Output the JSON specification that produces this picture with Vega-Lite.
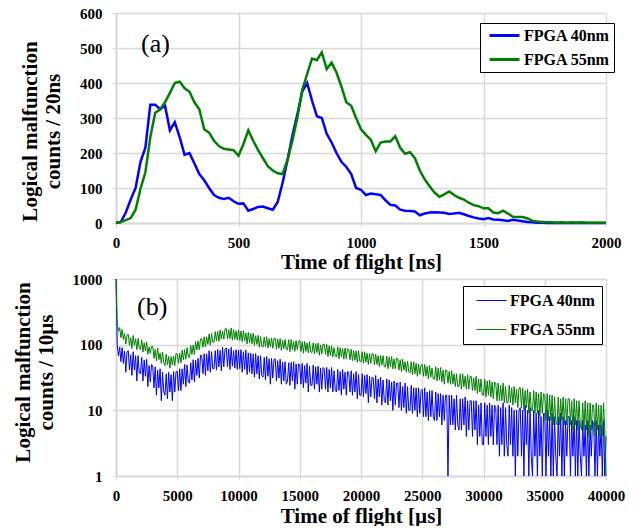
{
"$schema": "https://vega.github.io/schema/vega-lite/v6.json",
"padding": {"left": 12, "top": 6, "right": 4, "bottom": 0},
"background": "white",
"spacing": 0,
"config": {
  "font": "Liberation Serif",
  "view": {"stroke": null},
  "axis": {"labelFont": "Liberation Serif", "labelFontWeight": "bold", "labelFontSize": 15, "labelColor": "black", "labelFlush": false,
           "titleFont": "Liberation Serif", "titleFontWeight": "bold", "titleFontSize": 21, "titleColor": "black",
           "gridColor": "#d9d9d9", "gridWidth": 1.5, "domainColor": "#d9d9d9", "domainWidth": 2, "tickColor": "#d9d9d9", "tickSize": 4},
  "legend": {"labelFont": "Liberation Serif", "labelFontWeight": "bold", "labelFontSize": 16, "labelColor": "black",
             "strokeColor": "black", "fillColor": "white", "symbolType": "stroke", "symbolSize": 900, "title": null, "clipHeight": 17, "labelOffset": 3}
},
"resolve": {"scale": {"color": "independent"}, "legend": {"color": "independent"}},
"datasets": {
"ns": [
{"t":0,"n40":0,"n55":0},{"t":20,"n40":3,"n55":3},{"t":40,"n40":30,"n55":8},{"t":60,"n40":67,"n55":14},{"t":80,"n40":100,"n55":38},
{"t":100,"n40":175,"n55":98},{"t":120,"n40":215,"n55":145},{"t":140,"n40":338,"n55":245},{"t":160,"n40":338,"n55":315},{"t":180,"n40":325,"n55":324},
{"t":200,"n40":335,"n55":345},{"t":220,"n40":265,"n55":372},{"t":240,"n40":288,"n55":400},{"t":260,"n40":245,"n55":404},{"t":280,"n40":195,"n55":385},
{"t":300,"n40":200,"n55":375},{"t":320,"n40":170,"n55":345},{"t":340,"n40":140,"n55":325},{"t":360,"n40":122,"n55":268},{"t":380,"n40":100,"n55":258},
{"t":400,"n40":80,"n55":235},{"t":420,"n40":72,"n55":220},{"t":440,"n40":69,"n55":212},{"t":460,"n40":72,"n55":210},{"t":480,"n40":62,"n55":208},
{"t":500,"n40":55,"n55":192},{"t":520,"n40":56,"n55":225},{"t":540,"n40":35,"n55":265},{"t":560,"n40":40,"n55":235},{"t":580,"n40":46,"n55":208},
{"t":600,"n40":47,"n55":185},{"t":620,"n40":42,"n55":162},{"t":640,"n40":38,"n55":150},{"t":660,"n40":60,"n55":142},{"t":680,"n40":115,"n55":140},
{"t":700,"n40":180,"n55":180},{"t":720,"n40":250,"n55":235},{"t":740,"n40":310,"n55":300},{"t":760,"n40":375,"n55":380},{"t":780,"n40":400,"n55":425},
{"t":800,"n40":350,"n55":470},{"t":820,"n40":305,"n55":465},{"t":840,"n40":300,"n55":488},{"t":860,"n40":255,"n55":440},{"t":880,"n40":230,"n55":458},
{"t":900,"n40":200,"n55":430},{"t":920,"n40":175,"n55":390},{"t":940,"n40":160,"n55":345},{"t":960,"n40":140,"n55":335},{"t":980,"n40":100,"n55":300},
{"t":1000,"n40":95,"n55":268},{"t":1020,"n40":80,"n55":252},{"t":1040,"n40":84,"n55":238},{"t":1060,"n40":82,"n55":205},{"t":1080,"n40":80,"n55":230},
{"t":1100,"n40":65,"n55":233},{"t":1120,"n40":52,"n55":233},{"t":1140,"n40":50,"n55":248},{"t":1160,"n40":38,"n55":215},{"t":1180,"n40":35,"n55":198},
{"t":1200,"n40":34,"n55":202},{"t":1220,"n40":33,"n55":185},{"t":1240,"n40":22,"n55":150},{"t":1260,"n40":27,"n55":125},{"t":1280,"n40":30,"n55":105},
{"t":1300,"n40":31,"n55":87},{"t":1320,"n40":30,"n55":75},{"t":1340,"n40":29,"n55":82},{"t":1360,"n40":26,"n55":90},{"t":1380,"n40":27,"n55":80},
{"t":1400,"n40":29,"n55":72},{"t":1420,"n40":25,"n55":67},{"t":1440,"n40":20,"n55":58},{"t":1460,"n40":16,"n55":51},{"t":1480,"n40":13,"n55":48},
{"t":1500,"n40":11,"n55":42},{"t":1520,"n40":14,"n55":42},{"t":1540,"n40":10,"n55":30},{"t":1560,"n40":9,"n55":28},{"t":1580,"n40":8,"n55":35},
{"t":1600,"n40":6,"n55":27},{"t":1620,"n40":9,"n55":18},{"t":1640,"n40":7,"n55":17},{"t":1660,"n40":5,"n55":17},{"t":1680,"n40":3,"n55":13},
{"t":1700,"n40":2,"n55":6},{"t":1720,"n40":1,"n55":4},{"t":1740,"n40":1,"n55":3},{"t":1760,"n40":0,"n55":2},{"t":1780,"n40":0,"n55":2},
{"t":1800,"n40":1,"n55":1},{"t":1820,"n40":0,"n55":2},{"t":1840,"n40":0,"n55":1},{"t":1860,"n40":0,"n55":2},{"t":1880,"n40":1,"n55":1},
{"t":1900,"n40":0,"n55":2},{"t":1920,"n40":0,"n55":1},{"t":1940,"n40":0,"n55":1},{"t":1960,"n40":0,"n55":1},{"t":1980,"n40":0,"n55":1},
{"t":2000,"n40":0,"n55":1}
],
"us": [
{"t":0,"n40":1000,"n55":1000},{"t":100,"n40":100,"n55":210},{"t":200,"n40":68,"n55":160},{"t":300,"n40":92,"n55":182},{"t":400,"n40":55,"n55":128},{"t":500,"n40":90,"n55":170},{"t":600,"n40":52,"n55":120},{"t":700,"n40":80,"n55":148},{"t":800,"n40":38,"n55":102},{"t":900,"n40":78,"n55":140},
{"t":1000,"n40":81,"n55":144},{"t":1100,"n40":41,"n55":97},{"t":1200,"n40":70,"n55":128},{"t":1300,"n40":34,"n55":87},{"t":1400,"n40":78,"n55":138},{"t":1500,"n40":41,"n55":98},{"t":1600,"n40":68,"n55":123},{"t":1700,"n40":28,"n55":84},{"t":1800,"n40":68,"n55":124},{"t":1900,"n40":37,"n55":88},
{"t":2000,"n40":36,"n55":85},{"t":2100,"n40":64,"n55":118},{"t":2200,"n40":28,"n55":77},{"t":2300,"n40":58,"n55":107},{"t":2400,"n40":33,"n55":80},{"t":2500,"n40":60,"n55":110},{"t":2600,"n40":23,"n55":71},{"t":2700,"n40":48,"n55":92},{"t":2800,"n40":27,"n55":74},{"t":2900,"n40":50,"n55":94},
{"t":3000,"n40":47,"n55":94},{"t":3100,"n40":22,"n55":62},{"t":3200,"n40":46,"n55":85},{"t":3300,"n40":17,"n55":57},{"t":3400,"n40":41,"n55":89},{"t":3500,"n40":22,"n55":59},{"t":3600,"n40":43,"n55":75},{"t":3700,"n40":14,"n55":52},{"t":3800,"n40":38,"n55":77},{"t":3900,"n40":19,"n55":53},
{"t":4000,"n40":17,"n55":48},{"t":4100,"n40":36,"n55":72},{"t":4200,"n40":15,"n55":49},{"t":4300,"n40":38,"n55":66},{"t":4400,"n40":19,"n55":44},{"t":4500,"n40":35,"n55":66},{"t":4600,"n40":14,"n55":49},{"t":4700,"n40":39,"n55":67},{"t":4800,"n40":19,"n55":48},{"t":4900,"n40":39,"n55":74},
{"t":5000,"n40":39,"n55":72},{"t":5100,"n40":20,"n55":52},{"t":5200,"n40":43,"n55":74},{"t":5300,"n40":20,"n55":53},{"t":5400,"n40":43,"n55":83},{"t":5500,"n40":25,"n55":59},{"t":5600,"n40":50,"n55":84},{"t":5700,"n40":23,"n55":60},{"t":5800,"n40":49,"n55":90},{"t":5900,"n40":27,"n55":65},
{"t":6000,"n40":26,"n55":64},{"t":6100,"n40":53,"n55":97},{"t":6200,"n40":29,"n55":71},{"t":6300,"n40":59,"n55":99},{"t":6400,"n40":27,"n55":71},{"t":6500,"n40":58,"n55":111},{"t":6600,"n40":34,"n55":83},{"t":6700,"n40":62,"n55":114},{"t":6800,"n40":31,"n55":84},{"t":6900,"n40":69,"n55":122},
{"t":7000,"n40":68,"n55":124},{"t":7100,"n40":36,"n55":91},{"t":7200,"n40":73,"n55":132},{"t":7300,"n40":34,"n55":93},{"t":7400,"n40":72,"n55":132},{"t":7500,"n40":40,"n55":101},{"t":7600,"n40":81,"n55":146},{"t":7700,"n40":38,"n55":98},{"t":7800,"n40":78,"n55":148},{"t":7900,"n40":43,"n55":109},
{"t":8000,"n40":43,"n55":109},{"t":8100,"n40":81,"n55":158},{"t":8200,"n40":41,"n55":114},{"t":8300,"n40":85,"n55":159},{"t":8400,"n40":46,"n55":112},{"t":8500,"n40":82,"n55":168},{"t":8600,"n40":40,"n55":122},{"t":8700,"n40":91,"n55":162},{"t":8800,"n40":46,"n55":121},{"t":8900,"n40":86,"n55":173},
{"t":9000,"n40":89,"n55":177},{"t":9100,"n40":46,"n55":122},{"t":9200,"n40":86,"n55":170},{"t":9300,"n40":42,"n55":124},{"t":9400,"n40":91,"n55":179},{"t":9500,"n40":47,"n55":117},{"t":9600,"n40":81,"n55":170},{"t":9700,"n40":44,"n55":121},{"t":9800,"n40":84,"n55":162},{"t":9900,"n40":42,"n55":117},
{"t":10000,"n40":83,"n55":168},{"t":10100,"n40":43,"n55":117},{"t":10200,"n40":84,"n55":162},{"t":10300,"n40":38,"n55":111},{"t":10400,"n40":78,"n55":163},{"t":10500,"n40":42,"n55":114},{"t":10600,"n40":83,"n55":151},{"t":10700,"n40":35,"n55":103},{"t":10800,"n40":75,"n55":154},{"t":10900,"n40":38,"n55":106},
{"t":11000,"n40":74,"n55":148},{"t":11100,"n40":36,"n55":103},{"t":11200,"n40":72,"n55":149},{"t":11300,"n40":32,"n55":98},{"t":11400,"n40":73,"n55":137},{"t":11500,"n40":36,"n55":101},{"t":11600,"n40":68,"n55":139},{"t":11700,"n40":30,"n55":91},{"t":11800,"n40":68,"n55":133},{"t":11900,"n40":34,"n55":94},
{"t":12000,"n40":32,"n55":92},{"t":12100,"n40":64,"n55":131},{"t":12200,"n40":29,"n55":94},{"t":12300,"n40":66,"n55":132},{"t":12400,"n40":33,"n55":89},{"t":12500,"n40":61,"n55":123},{"t":12600,"n40":25,"n55":93},{"t":12700,"n40":62,"n55":127},{"t":12800,"n40":31,"n55":88},{"t":12900,"n40":59,"n55":124},
{"t":13000,"n40":61,"n55":125},{"t":13100,"n40":28,"n55":85},{"t":13200,"n40":57,"n55":122},{"t":13300,"n40":31,"n55":88},{"t":13400,"n40":60,"n55":124},{"t":13500,"n40":25,"n55":82},{"t":13600,"n40":54,"n55":116},{"t":13700,"n40":28,"n55":87},{"t":13800,"n40":55,"n55":120},{"t":13900,"n40":25,"n55":84},
{"t":14000,"n40":28,"n55":84},{"t":14100,"n40":53,"n55":119},{"t":14200,"n40":24,"n55":78},{"t":14300,"n40":54,"n55":120},{"t":14400,"n40":28,"n55":83},{"t":14500,"n40":55,"n55":112},{"t":14600,"n40":21,"n55":79},{"t":14700,"n40":51,"n55":115},{"t":14800,"n40":25,"n55":84},{"t":14900,"n40":51,"n55":112},
{"t":15000,"n40":49,"n55":116},{"t":15100,"n40":25,"n55":79},{"t":15200,"n40":52,"n55":111},{"t":15300,"n40":22,"n55":74},{"t":15400,"n40":48,"n55":112},{"t":15500,"n40":26,"n55":79},{"t":15600,"n40":52,"n55":106},{"t":15700,"n40":19,"n55":75},{"t":15800,"n40":47,"n55":111},{"t":15900,"n40":24,"n55":77},
{"t":16000,"n40":24,"n55":76},{"t":16100,"n40":49,"n55":107},{"t":16200,"n40":21,"n55":73},{"t":16300,"n40":46,"n55":104},{"t":16400,"n40":25,"n55":76},{"t":16500,"n40":47,"n55":106},{"t":16600,"n40":19,"n55":69},{"t":16700,"n40":44,"n55":99},{"t":16800,"n40":21,"n55":72},{"t":16900,"n40":45,"n55":102},
{"t":17000,"n40":43,"n55":101},{"t":17100,"n40":21,"n55":71},{"t":17200,"n40":45,"n55":101},{"t":17300,"n40":19,"n55":66},{"t":17400,"n40":42,"n55":96},{"t":17500,"n40":22,"n55":68},{"t":17600,"n40":45,"n55":96},{"t":17700,"n40":19,"n55":65},{"t":17800,"n40":40,"n55":90},{"t":17900,"n40":20,"n55":67},
{"t":18000,"n40":19,"n55":65},{"t":18100,"n40":42,"n55":93},{"t":18200,"n40":20,"n55":61},{"t":18300,"n40":39,"n55":90},{"t":18400,"n40":17,"n55":65},{"t":18500,"n40":42,"n55":87},{"t":18600,"n40":21,"n55":60},{"t":18700,"n40":38,"n55":89},{"t":18800,"n40":17,"n55":61},{"t":18900,"n40":39,"n55":86},
{"t":19000,"n40":38,"n55":85},{"t":19100,"n40":19,"n55":59},{"t":19200,"n40":40,"n55":85},{"t":19300,"n40":17,"n55":57},{"t":19400,"n40":36,"n55":81},{"t":19500,"n40":19,"n55":58},{"t":19600,"n40":39,"n55":80},{"t":19700,"n40":15,"n55":54},{"t":19800,"n40":35,"n55":81},{"t":19900,"n40":17,"n55":56},
{"t":20000,"n40":17,"n55":55},{"t":20100,"n40":36,"n55":78},{"t":20200,"n40":16,"n55":52},{"t":20300,"n40":34,"n55":78},{"t":20400,"n40":18,"n55":54},{"t":20500,"n40":35,"n55":74},{"t":20600,"n40":13,"n55":50},{"t":20700,"n40":33,"n55":73},{"t":20800,"n40":16,"n55":52},{"t":20900,"n40":32,"n55":73},
{"t":21000,"n40":31,"n55":72},{"t":21100,"n40":15,"n55":49},{"t":21200,"n40":34,"n55":72},{"t":21300,"n40":13,"n55":50},{"t":21400,"n40":30,"n55":68},{"t":21500,"n40":16,"n55":46},{"t":21600,"n40":32,"n55":68},{"t":21700,"n40":12,"n55":49},{"t":21800,"n40":29,"n55":68},{"t":21900,"n40":14,"n55":46},
{"t":22000,"n40":13,"n55":46},{"t":22100,"n40":30,"n55":67},{"t":22200,"n40":12,"n55":43},{"t":22300,"n40":29,"n55":65},{"t":22400,"n40":14,"n55":46},{"t":22500,"n40":27,"n55":66},{"t":22600,"n40":10,"n55":43},{"t":22700,"n40":28,"n55":61},{"t":22800,"n40":12,"n55":43},{"t":22900,"n40":26,"n55":62},
{"t":23000,"n40":26,"n55":61},{"t":23100,"n40":11,"n55":41},{"t":23200,"n40":27,"n55":59},{"t":23300,"n40":10,"n55":39},{"t":23400,"n40":23,"n55":60},{"t":23500,"n40":11,"n55":41},{"t":23600,"n40":26,"n55":55},{"t":23700,"n40":9,"n55":38},{"t":23800,"n40":23,"n55":56},{"t":23900,"n40":10,"n55":39},
{"t":24000,"n40":10,"n55":37},{"t":24100,"n40":24,"n55":55},{"t":24200,"n40":9,"n55":35},{"t":24300,"n40":22,"n55":55},{"t":24400,"n40":10,"n55":36},{"t":24500,"n40":22,"n55":52},{"t":24600,"n40":8,"n55":33},{"t":24700,"n40":22,"n55":51},{"t":24800,"n40":9,"n55":35},{"t":24900,"n40":20,"n55":49},
{"t":25000,"n40":21,"n55":50},{"t":25100,"n40":8,"n55":33},{"t":25200,"n40":22,"n55":50},{"t":25300,"n40":8,"n55":33},{"t":25400,"n40":19,"n55":47},{"t":25500,"n40":7,"n55":30},{"t":25600,"n40":20,"n55":48},{"t":25700,"n40":8,"n55":32},{"t":25800,"n40":20,"n55":44},{"t":25900,"n40":8,"n55":30},
{"t":26000,"n40":7,"n55":30},{"t":26100,"n40":19,"n55":46},{"t":26200,"n40":7,"n55":28},{"t":26300,"n40":18,"n55":44},{"t":26400,"n40":8,"n55":29},{"t":26500,"n40":18,"n55":45},{"t":26600,"n40":6,"n55":27},{"t":26700,"n40":17,"n55":41},{"t":26800,"n40":7,"n55":25},{"t":26900,"n40":17,"n55":41},
{"t":27000,"n40":17,"n55":41},{"t":27100,"n40":1,"n55":26},{"t":27200,"n40":17,"n55":39},{"t":27300,"n40":6,"n55":25},{"t":27400,"n40":17,"n55":40},{"t":27500,"n40":6,"n55":25},{"t":27600,"n40":15,"n55":36},{"t":27700,"n40":5,"n55":23},{"t":27800,"n40":17,"n55":36},{"t":27900,"n40":6,"n55":23},
{"t":28000,"n40":5,"n55":23},{"t":28100,"n40":15,"n55":36},{"t":28200,"n40":5,"n55":21},{"t":28300,"n40":15,"n55":36},{"t":28400,"n40":6,"n55":23},{"t":28500,"n40":16,"n55":33},{"t":28600,"n40":4,"n55":21},{"t":28700,"n40":14,"n55":35},{"t":28800,"n40":5,"n55":21},{"t":28900,"n40":14,"n55":33},
{"t":29000,"n40":14,"n55":33},{"t":29100,"n40":4,"n55":20},{"t":29200,"n40":14,"n55":31},{"t":29300,"n40":5,"n55":20},{"t":29400,"n40":14,"n55":33},{"t":29500,"n40":3,"n55":18},{"t":29600,"n40":12,"n55":30},{"t":29700,"n40":4,"n55":19},{"t":29800,"n40":13,"n55":30},{"t":29900,"n40":3,"n55":17},
{"t":30000,"n40":3,"n55":17},{"t":30100,"n40":13,"n55":30},{"t":30200,"n40":4,"n55":16},{"t":30300,"n40":12,"n55":28},{"t":30400,"n40":3,"n55":17},{"t":30500,"n40":13,"n55":29},{"t":30600,"n40":4,"n55":16},{"t":30700,"n40":12,"n55":27},{"t":30800,"n40":3,"n55":15},{"t":30900,"n40":12,"n55":27},
{"t":31000,"n40":11,"n55":26},{"t":31100,"n40":3,"n55":14},{"t":31200,"n40":12,"n55":26},{"t":31300,"n40":2,"n55":14},{"t":31400,"n40":11,"n55":24},{"t":31500,"n40":3,"n55":14},{"t":31600,"n40":13,"n55":26},{"t":31700,"n40":2,"n55":13},{"t":31800,"n40":11,"n55":23},{"t":31900,"n40":3,"n55":13},
{"t":32000,"n40":2,"n55":13},{"t":32100,"n40":12,"n55":24},{"t":32200,"n40":3,"n55":13},{"t":32300,"n40":11,"n55":22},{"t":32400,"n40":2,"n55":12},{"t":32500,"n40":10,"n55":23},{"t":32600,"n40":1,"n55":13},{"t":32700,"n40":10,"n55":21},{"t":32800,"n40":2,"n55":11},{"t":32900,"n40":10,"n55":22},
{"t":33000,"n40":11,"n55":22},{"t":33100,"n40":2,"n55":11},{"t":33200,"n40":10,"n55":22},{"t":33300,"n40":1,"n55":10},{"t":33400,"n40":12,"n55":20},{"t":33500,"n40":3,"n55":11},{"t":33600,"n40":10,"n55":21},{"t":33700,"n40":1,"n55":9},{"t":33800,"n40":11,"n55":19},{"t":33900,"n40":2,"n55":10},
{"t":34000,"n40":1,"n55":10},{"t":34100,"n40":10,"n55":20},{"t":34200,"n40":2,"n55":9},{"t":34300,"n40":9,"n55":19},{"t":34400,"n40":1,"n55":9},{"t":34500,"n40":10,"n55":18},{"t":34600,"n40":2,"n55":8},{"t":34700,"n40":8,"n55":19},{"t":34800,"n40":1,"n55":9},{"t":34900,"n40":9,"n55":18},
{"t":35000,"n40":9,"n55":17},{"t":35100,"n40":1,"n55":7},{"t":35200,"n40":10,"n55":18},{"t":35300,"n40":2,"n55":7},{"t":35400,"n40":8,"n55":17},{"t":35500,"n40":1,"n55":7},{"t":35600,"n40":9,"n55":17},{"t":35700,"n40":1,"n55":6},{"t":35800,"n40":8,"n55":16},{"t":35900,"n40":2,"n55":7},
{"t":36000,"n40":1,"n55":6},{"t":36100,"n40":8,"n55":16},{"t":36200,"n40":2,"n55":6},{"t":36300,"n40":9,"n55":15},{"t":36400,"n40":1,"n55":7},{"t":36500,"n40":8,"n55":16},{"t":36600,"n40":1,"n55":6},{"t":36700,"n40":7,"n55":15},{"t":36800,"n40":2,"n55":6},{"t":36900,"n40":8,"n55":15},
{"t":37000,"n40":8,"n55":15},{"t":37100,"n40":1,"n55":6},{"t":37200,"n40":7,"n55":14},{"t":37300,"n40":2,"n55":5},{"t":37400,"n40":8,"n55":15},{"t":37500,"n40":1,"n55":6},{"t":37600,"n40":7,"n55":14},{"t":37700,"n40":1,"n55":5},{"t":37800,"n40":7,"n55":14},{"t":37900,"n40":2,"n55":6},
{"t":38000,"n40":1,"n55":5},{"t":38100,"n40":7,"n55":13},{"t":38200,"n40":2,"n55":5},{"t":38300,"n40":6,"n55":14},{"t":38400,"n40":1,"n55":5},{"t":38500,"n40":7,"n55":13},{"t":38600,"n40":1,"n55":4},{"t":38700,"n40":6,"n55":13},{"t":38800,"n40":2,"n55":5},{"t":38900,"n40":7,"n55":12},
{"t":39000,"n40":6,"n55":12},{"t":39100,"n40":1,"n55":4},{"t":39200,"n40":7,"n55":13},{"t":39300,"n40":1,"n55":5},{"t":39400,"n40":6,"n55":12},{"t":39500,"n40":2,"n55":4},{"t":39600,"n40":6,"n55":12},{"t":39700,"n40":1,"n55":4},{"t":39800,"n40":7,"n55":13},{"t":39900,"n40":1,"n55":5},
{"t":40000,"n40":4,"n55":1}
]
},
"vconcat": [
{
  "width": 490, "height": 210,
  "title": {"text": "(a)", "anchor": "start", "frame": "group", "font": "Liberation Serif", "fontSize": 26, "fontWeight": "normal", "color": "black", "dx": 25, "offset": -51},
  "data": {"name": "ns"},
  "transform": [{"fold": ["n40", "n55"], "as": ["series", "count"]}],
  "mark": {"type": "line", "strokeWidth": 2.5},
  "encoding": {
    "x": {"field": "t", "type": "quantitative", "scale": {"domain": [0, 2000], "nice": false},
          "axis": {"values": [0, 500, 1000, 1500, 2000], "format": "d", "title": "Time of flight [ns]", "labelPadding": 8, "titlePadding": 1}},
    "y": {"field": "count", "type": "quantitative", "scale": {"domain": [0, 600], "nice": false},
          "axis": {"values": [0, 100, 200, 300, 400, 500, 600], "format": "d", "title": ["Logical malfunction", "counts / 20ns"], "titlePadding": 16, "labelPadding": 10, "titleY": 118}},
    "color": {"field": "series", "type": "nominal", "scale": {"domain": ["n40", "n55"], "range": ["#0000ff", "#008000"]},
              "legend": {"orient": "none", "legendX": 364, "legendY": 10, "symbolStrokeWidth": 3, "rowPadding": 7, "padding": 4, "symbolOffset": 4,
                         "labelExpr": "datum.label == 'n40' ? 'FPGA 40nm' : 'FPGA 55nm'"}}
  }
},
{
  "width": 490, "height": 197,
  "title": {"text": "(b)", "anchor": "start", "frame": "group", "font": "Liberation Serif", "fontSize": 26, "fontWeight": "normal", "color": "black", "dx": 21, "offset": -48},
  "data": {"name": "us"},
  "transform": [{"fold": ["n40", "n55"], "as": ["series", "count"]}],
  "mark": {"type": "line", "strokeWidth": 1},
  "encoding": {
    "x": {"field": "t", "type": "quantitative", "scale": {"domain": [0, 40000], "nice": false},
          "axis": {"values": [0, 5000, 10000, 15000, 20000, 25000, 30000, 35000, 40000], "format": "d", "title": "Time of flight [µs]", "labelPadding": 8, "titlePadding": 2}},
    "y": {"field": "count", "type": "quantitative", "scale": {"type": "log", "domain": [1, 1000], "nice": false},
          "axis": {"values": [1, 10, 100, 1000], "format": "d", "title": ["Logical malfunction", "counts / 10µs"], "titlePadding": 16, "labelPadding": 10, "titleY": 93}},
    "color": {"field": "series", "type": "nominal", "scale": {"domain": ["n40", "n55"], "range": ["#0000ff", "#008000"]},
              "legend": {"orient": "none", "legendX": 347, "legendY": 7, "symbolStrokeWidth": 1, "rowPadding": 12, "padding": 6, "symbolOffset": 7,
                         "labelExpr": "datum.label == 'n40' ? 'FPGA 40nm' : 'FPGA 55nm'"}}
  }
}
]
}
